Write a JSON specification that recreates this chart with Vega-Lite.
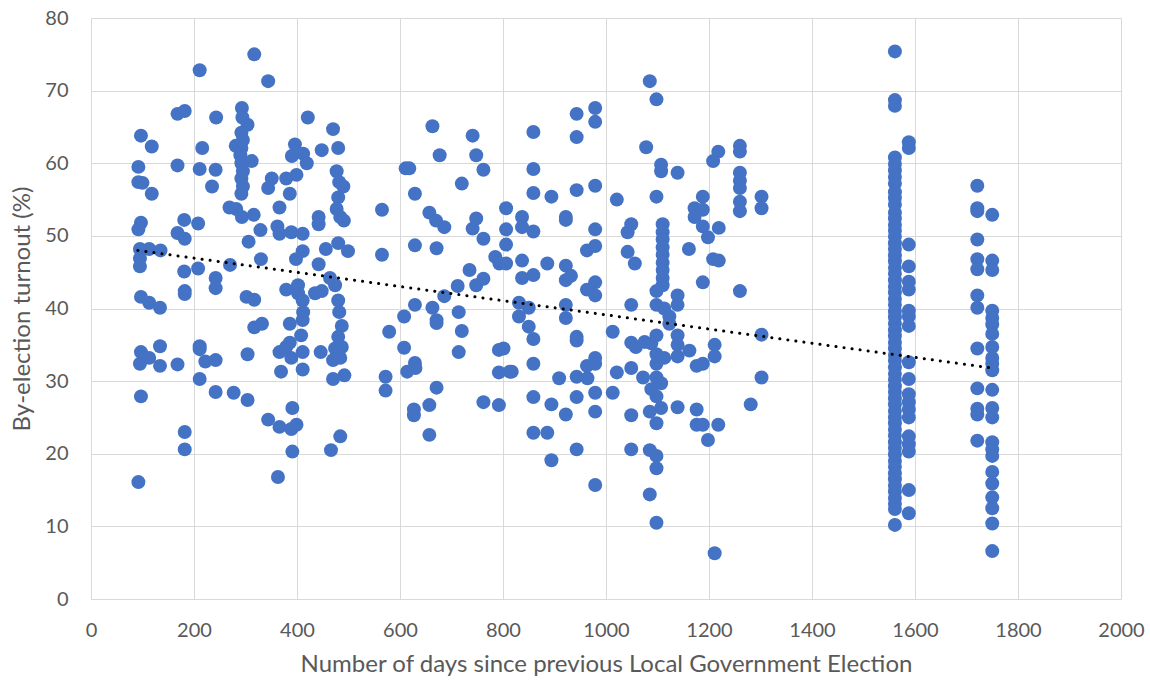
{
  "$schema": "https://vega.github.io/schema/vega-lite/v6.json",
  "width": 1030,
  "height": 581,
  "autosize": {"type": "none"},
  "padding": {"left": 91, "top": 18, "right": 29, "bottom": 82},
  "background": "white",
  "config": {
    "view": {"stroke": null},
    "font": "Lato",
    "axis": {
      "grid": true,
      "gridColor": "#d9d9d9",
      "gridWidth": 1,
      "domain": false,
      "ticks": false,
      "tickSize": 0,
      "labelColor": "#595959",
      "titleColor": "#595959",
      "labelFont": "Lato",
      "titleFont": "Lato",
      "labelFontSize": 20,
      "titleFontSize": 24,
      "titleFontWeight": "normal",
      "labelFlush": false,
      "labelOverlap": false
    }
  },
  "datasets": {
    "trend": [{"d": 91, "t": 48.0}, {"d": 1750, "t": 31.8}],
    "turnout": [
      {"d":211,"t":72.8},{"d":168,"t":66.8},{"d":182,"t":67.2},{"d":243,"t":66.3},{"d":97,"t":63.8},{"d":118,"t":62.3},{"d":216,"t":62.1},{"d":92,"t":59.5},{"d":168,"t":59.7},{"d":211,"t":59.2},{"d":242,"t":59.1},{"d":92,"t":57.4},{"d":100,"t":57.3},{"d":118,"t":55.8},{"d":235,"t":56.8},{"d":97,"t":51.8},{"d":92,"t":50.9},{"d":181,"t":52.2},{"d":208,"t":51.7},{"d":168,"t":50.4},{"d":182,"t":49.6},{"d":95,"t":48.2},{"d":113,"t":48.2},{"d":135,"t":48.0},{"d":95,"t":46.9},{"d":95,"t":45.8},{"d":181,"t":45.1},{"d":208,"t":45.5},{"d":242,"t":44.2},{"d":242,"t":42.8},{"d":182,"t":42.4},{"d":182,"t":42.0},{"d":97,"t":41.6},{"d":113,"t":40.8},{"d":134,"t":40.1},{"d":97,"t":34.0},{"d":113,"t":33.2},{"d":134,"t":34.8},{"d":95,"t":32.4},{"d":134,"t":32.1},{"d":168,"t":32.3},{"d":211,"t":34.8},{"d":211,"t":34.4},{"d":222,"t":32.7},{"d":242,"t":32.9},{"d":211,"t":30.3},{"d":242,"t":28.5},{"d":97,"t":27.9},{"d":182,"t":23.0},{"d":182,"t":20.6},{"d":92,"t":16.1},
      {"d":317,"t":75.0},{"d":344,"t":71.3},{"d":293,"t":67.6},{"d":294,"t":66.3},{"d":304,"t":65.3},{"d":292,"t":64.2},{"d":295,"t":63.2},{"d":292,"t":62.1},{"d":290,"t":61.1},{"d":292,"t":60.0},{"d":295,"t":58.9},{"d":292,"t":57.9},{"d":295,"t":56.8},{"d":292,"t":55.8},{"d":281,"t":62.4},{"d":312,"t":60.3},{"d":351,"t":57.9},{"d":344,"t":56.6},{"d":396,"t":62.6},{"d":390,"t":61.0},{"d":412,"t":61.3},{"d":419,"t":60.0},{"d":399,"t":58.4},{"d":379,"t":57.9},{"d":386,"t":55.8},{"d":421,"t":66.3},{"d":470,"t":64.7},{"d":448,"t":61.8},{"d":480,"t":62.1},{"d":477,"t":58.9},{"d":482,"t":57.4},{"d":490,"t":56.8},{"d":480,"t":55.3},{"d":477,"t":53.7},{"d":484,"t":52.6},{"d":491,"t":52.1},{"d":269,"t":53.9},{"d":282,"t":53.7},{"d":293,"t":52.6},{"d":316,"t":52.9},{"d":366,"t":53.9},{"d":442,"t":52.6},{"d":442,"t":51.6},{"d":329,"t":50.8},{"d":306,"t":49.2},{"d":362,"t":51.3},{"d":366,"t":50.3},{"d":389,"t":50.5},{"d":411,"t":50.3},{"d":456,"t":48.2},{"d":480,"t":49.0},{"d":499,"t":47.9},{"d":411,"t":47.9},{"d":398,"t":46.8},{"d":330,"t":46.8},{"d":442,"t":46.1},{"d":270,"t":46.0},{"d":379,"t":42.6},{"d":402,"t":43.2},{"d":402,"t":42.1},{"d":411,"t":41.1},{"d":412,"t":39.5},{"d":386,"t":37.9},{"d":411,"t":38.4},{"d":408,"t":36.3},{"d":448,"t":42.4},{"d":435,"t":42.1},{"d":464,"t":44.2},{"d":474,"t":43.2},{"d":480,"t":41.1},{"d":482,"t":39.5},{"d":487,"t":37.6},{"d":480,"t":36.1},{"d":487,"t":34.7},{"d":474,"t":34.5},{"d":470,"t":32.9},{"d":484,"t":33.2},{"d":302,"t":41.6},{"d":317,"t":41.2},{"d":317,"t":37.4},{"d":332,"t":37.9},{"d":304,"t":33.7},{"d":366,"t":34.0},{"d":389,"t":33.2},{"d":411,"t":34.0},{"d":379,"t":34.7},{"d":386,"t":35.3},{"d":369,"t":31.3},{"d":411,"t":31.6},{"d":446,"t":34.0},{"d":470,"t":30.3},{"d":492,"t":30.8},{"d":277,"t":28.4},{"d":304,"t":27.4},{"d":344,"t":24.7},{"d":366,"t":23.7},{"d":389,"t":23.4},{"d":399,"t":24.0},{"d":391,"t":26.3},{"d":391,"t":20.3},{"d":363,"t":16.8},{"d":484,"t":22.4},{"d":466,"t":20.5},
      {"d":565,"t":53.6},{"d":565,"t":47.4},{"d":611,"t":59.3},{"d":618,"t":59.3},{"d":629,"t":55.8},{"d":629,"t":48.7},{"d":663,"t":65.1},{"d":677,"t":61.1},{"d":657,"t":53.2},{"d":670,"t":52.1},{"d":686,"t":51.2},{"d":671,"t":48.3},{"d":741,"t":63.8},{"d":748,"t":61.1},{"d":762,"t":59.1},{"d":720,"t":57.2},{"d":748,"t":52.4},{"d":741,"t":51.0},{"d":762,"t":49.6},{"d":785,"t":47.1},{"d":793,"t":46.2},{"d":806,"t":53.8},{"d":806,"t":50.9},{"d":806,"t":48.8},{"d":806,"t":46.2},{"d":735,"t":45.3},{"d":748,"t":43.2},{"d":762,"t":44.1},{"d":712,"t":43.1},{"d":686,"t":41.7},{"d":629,"t":40.5},{"d":663,"t":40.1},{"d":671,"t":38.4},{"d":671,"t":38.0},{"d":608,"t":38.9},{"d":579,"t":36.8},{"d":608,"t":34.6},{"d":629,"t":32.5},{"d":630,"t":31.8},{"d":614,"t":31.3},{"d":572,"t":30.6},{"d":572,"t":28.7},{"d":657,"t":22.6},{"d":627,"t":26.1},{"d":627,"t":25.3},{"d":657,"t":26.7},{"d":671,"t":29.1},{"d":714,"t":39.5},{"d":720,"t":36.9},{"d":714,"t":34.0},{"d":792,"t":34.3},{"d":792,"t":31.2},{"d":762,"t":27.1},{"d":792,"t":26.7},{"d":813,"t":31.3},
      {"d":1085,"t":71.3},{"d":1098,"t":68.8},{"d":943,"t":66.8},{"d":979,"t":67.6},{"d":979,"t":65.7},{"d":943,"t":63.6},{"d":859,"t":64.3},{"d":1078,"t":62.2},{"d":1107,"t":59.8},{"d":1107,"t":58.9},{"d":859,"t":59.2},{"d":859,"t":55.9},{"d":894,"t":55.4},{"d":943,"t":56.3},{"d":979,"t":56.9},{"d":1021,"t":55.0},{"d":1098,"t":55.4},{"d":837,"t":52.6},{"d":837,"t":51.2},{"d":859,"t":50.6},{"d":837,"t":46.6},{"d":922,"t":52.6},{"d":922,"t":52.2},{"d":979,"t":50.9},{"d":963,"t":48.0},{"d":979,"t":48.6},{"d":886,"t":46.2},{"d":922,"t":45.9},{"d":922,"t":43.9},{"d":932,"t":44.5},{"d":963,"t":42.6},{"d":979,"t":43.6},{"d":979,"t":41.8},{"d":837,"t":44.2},{"d":859,"t":44.6},{"d":1049,"t":51.6},{"d":1042,"t":50.5},{"d":1042,"t":47.8},{"d":1056,"t":46.2},
      {"d":1110,"t":51.6},{"d":1110,"t":50.5},{"d":1110,"t":49.5},{"d":1110,"t":48.4},{"d":1110,"t":47.4},{"d":1110,"t":46.3},{"d":1110,"t":45.3},{"d":1110,"t":44.2},{"d":1110,"t":43.2},
      {"d":1098,"t":42.4},{"d":1098,"t":40.5},{"d":1049,"t":40.5},{"d":831,"t":40.8},{"d":850,"t":40.1},{"d":831,"t":38.9},{"d":850,"t":37.5},{"d":859,"t":35.8},{"d":922,"t":40.5},{"d":922,"t":38.7},{"d":943,"t":36.1},{"d":943,"t":35.6},{"d":1013,"t":36.8},{"d":801,"t":34.5},{"d":817,"t":31.3},{"d":859,"t":32.4},{"d":909,"t":30.4},{"d":943,"t":30.6},{"d":964,"t":30.4},{"d":963,"t":32.1},{"d":979,"t":33.2},{"d":979,"t":32.4},{"d":1021,"t":31.2},{"d":1049,"t":35.3},{"d":1058,"t":34.7},{"d":1075,"t":35.4},{"d":1049,"t":31.8},{"d":1072,"t":30.5},{"d":1088,"t":28.9},{"d":1098,"t":27.9},{"d":1098,"t":30.5},{"d":1088,"t":35.2},{"d":1098,"t":36.3},{"d":1098,"t":33.7},{"d":1098,"t":32.4},{"d":1107,"t":29.7},{"d":1107,"t":26.3},{"d":1098,"t":24.2},{"d":1085,"t":25.8},{"d":859,"t":27.8},{"d":894,"t":26.8},{"d":922,"t":25.4},{"d":943,"t":27.8},{"d":979,"t":28.4},{"d":979,"t":25.8},{"d":1013,"t":28.4},{"d":1049,"t":25.3},{"d":859,"t":22.9},{"d":886,"t":22.9},{"d":894,"t":19.1},{"d":943,"t":20.6},{"d":979,"t":15.7},{"d":1049,"t":20.6},{"d":1085,"t":20.5},{"d":1098,"t":19.7},{"d":1098,"t":18.0},{"d":1085,"t":14.4},{"d":1098,"t":10.5},
      {"d":1218,"t":61.6},{"d":1208,"t":60.3},{"d":1260,"t":62.4},{"d":1260,"t":61.6},{"d":1260,"t":58.7},{"d":1260,"t":57.6},{"d":1260,"t":56.6},{"d":1260,"t":54.7},{"d":1260,"t":53.4},{"d":1302,"t":55.4},{"d":1302,"t":53.8},{"d":1139,"t":58.7},{"d":1188,"t":55.4},{"d":1172,"t":53.8},{"d":1188,"t":53.6},{"d":1172,"t":52.6},{"d":1188,"t":51.3},{"d":1198,"t":49.8},{"d":1219,"t":51.1},{"d":1161,"t":48.2},{"d":1208,"t":46.8},{"d":1219,"t":46.6},{"d":1188,"t":43.6},{"d":1260,"t":42.4},{"d":1139,"t":41.8},{"d":1139,"t":40.5},{"d":1113,"t":40.0},{"d":1123,"t":38.9},{"d":1123,"t":37.9},{"d":1139,"t":36.3},{"d":1139,"t":35.0},{"d":1139,"t":33.4},{"d":1162,"t":34.2},{"d":1176,"t":32.1},{"d":1188,"t":32.4},{"d":1211,"t":33.4},{"d":1211,"t":35.0},{"d":1113,"t":33.2},{"d":1302,"t":36.4},{"d":1302,"t":30.5},{"d":1139,"t":26.4},{"d":1176,"t":26.1},{"d":1176,"t":24.0},{"d":1188,"t":24.0},{"d":1218,"t":24.0},{"d":1198,"t":21.9},{"d":1281,"t":26.8},{"d":1211,"t":6.3},
      {"d":1561,"t":75.4},{"d":1561,"t":68.7},{"d":1561,"t":67.9},{"d":1561,"t":60.8},{"d":1561,"t":59.9},{"d":1561,"t":59.0},{"d":1561,"t":58.1},{"d":1561,"t":57.2},{"d":1561,"t":56.0},{"d":1561,"t":55.2},{"d":1561,"t":54.3},{"d":1561,"t":53.2},{"d":1561,"t":52.4},{"d":1561,"t":51.5},{"d":1561,"t":50.7},{"d":1561,"t":49.9},{"d":1561,"t":49.0},{"d":1561,"t":48.2},{"d":1561,"t":47.3},{"d":1561,"t":46.5},{"d":1561,"t":45.6},{"d":1561,"t":44.8},{"d":1561,"t":43.9},{"d":1561,"t":43.0},{"d":1561,"t":42.2},{"d":1561,"t":41.3},{"d":1561,"t":40.5},{"d":1561,"t":39.6},{"d":1561,"t":38.8},{"d":1561,"t":37.9},{"d":1561,"t":37.0},{"d":1561,"t":36.2},{"d":1561,"t":35.3},{"d":1561,"t":34.5},{"d":1561,"t":33.6},{"d":1561,"t":32.8},{"d":1561,"t":31.9},{"d":1561,"t":31.0},{"d":1561,"t":30.2},{"d":1561,"t":29.3},{"d":1561,"t":28.5},{"d":1561,"t":27.6},{"d":1561,"t":26.8},{"d":1561,"t":25.9},{"d":1561,"t":25.0},{"d":1561,"t":24.2},{"d":1561,"t":23.3},{"d":1561,"t":22.5},{"d":1561,"t":21.6},{"d":1561,"t":20.8},{"d":1561,"t":19.9},{"d":1561,"t":19.0},{"d":1561,"t":18.2},{"d":1561,"t":17.3},{"d":1561,"t":16.5},{"d":1561,"t":15.6},{"d":1561,"t":14.8},{"d":1561,"t":13.9},{"d":1561,"t":13.1},{"d":1561,"t":12.4},{"d":1561,"t":10.2},
      {"d":1588,"t":62.9},{"d":1588,"t":62.1},{"d":1588,"t":48.8},{"d":1588,"t":45.8},{"d":1588,"t":43.7},{"d":1588,"t":42.6},{"d":1588,"t":39.7},{"d":1588,"t":38.9},{"d":1588,"t":37.6},{"d":1588,"t":32.6},{"d":1588,"t":30.3},{"d":1588,"t":28.2},{"d":1588,"t":27.1},{"d":1588,"t":26.1},{"d":1588,"t":25.0},{"d":1588,"t":22.4},{"d":1588,"t":21.3},{"d":1588,"t":20.3},{"d":1588,"t":15.0},{"d":1588,"t":11.8},
      {"d":1721,"t":56.9},{"d":1721,"t":53.8},{"d":1721,"t":53.4},{"d":1721,"t":49.5},{"d":1721,"t":46.8},{"d":1721,"t":45.4},{"d":1721,"t":41.8},{"d":1721,"t":40.1},{"d":1721,"t":34.5},{"d":1721,"t":29.0},{"d":1721,"t":26.2},{"d":1721,"t":25.4},{"d":1721,"t":21.8},
      {"d":1750,"t":52.9},{"d":1750,"t":46.6},{"d":1750,"t":45.3},{"d":1750,"t":39.7},{"d":1750,"t":38.7},{"d":1750,"t":37.8},{"d":1750,"t":36.5},{"d":1750,"t":34.7},{"d":1750,"t":33.2},{"d":1750,"t":32.4},{"d":1750,"t":31.5},{"d":1750,"t":28.8},{"d":1750,"t":26.3},{"d":1750,"t":25.0},{"d":1750,"t":21.6},{"d":1750,"t":20.6},{"d":1750,"t":19.7},{"d":1750,"t":17.5},{"d":1750,"t":15.9},{"d":1750,"t":14.0},{"d":1750,"t":12.5},{"d":1750,"t":10.4},{"d":1750,"t":6.6}
    ]
  },
  "layer": [
    {
      "data": {"name": "turnout"},
      "mark": {"type": "circle", "size": 195, "color": "#4472C4", "opacity": 1},
      "encoding": {
        "x": {"field": "d", "type": "quantitative", "scale": {"domain": [0, 2000], "nice": false, "zero": true},
          "axis": {"values": [0,200,400,600,800,1000,1200,1400,1600,1800,2000], "format": "d", "title": "Number of days since previous Local Government Election", "labelPadding": 21, "titlePadding": 12}},
        "y": {"field": "t", "type": "quantitative", "scale": {"domain": [0, 80], "nice": false},
          "axis": {"values": [0,10,20,30,40,50,60,70,80], "format": "d", "title": "By-election turnout (%)", "labelPadding": 23, "titlePadding": 10}}
      }
    },
    {
      "data": {"name": "trend"},
      "mark": {"type": "line", "color": "black", "strokeWidth": 3, "strokeCap": "round", "strokeDash": [0.1, 8]},
      "encoding": {
        "x": {"field": "d", "type": "quantitative"},
        "y": {"field": "t", "type": "quantitative"}
      }
    }
  ]
}
